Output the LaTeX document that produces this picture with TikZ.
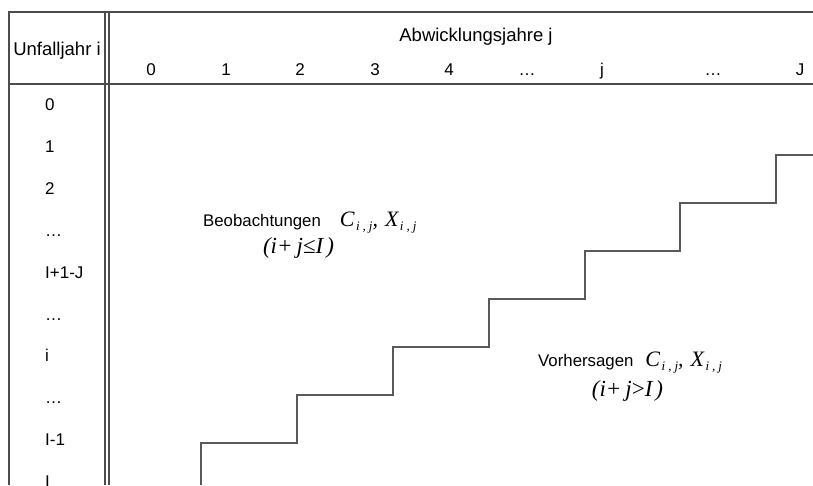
\documentclass[tikz,border=0pt]{standalone}
\usepackage{fontspec}
\setmainfont{Liberation Sans}
\newfontfamily\tmsfont{Liberation Serif}
\newcommand{\mbig}[1]{{\fontsize{22}{23}\selectfont\tmsfont\itshape #1}}
\newcommand{\msubs}{\raisebox{-3.5pt}{\fontsize{13}{13}\selectfont\tmsfont\itshape i\hspace{3pt},\hspace{3pt}j}}
\newcommand{\cxpair}{\mbig{C}\hspace{1.5pt}\msubs\mbig{,}\hspace{7pt}\mbig{X}\hspace{1.5pt}\msubs}
\tikzset{
  frame/.style={draw=black!70, line width=1.1pt},
  stair/.style={draw=black!65, line width=1.5pt},
  ttl/.style={inner sep=0pt, font=\fontsize{18.5}{20}\selectfont},
  lbl/.style={inner sep=0pt, font=\fontsize{17}{19}\selectfont},
  reg/.style={inner sep=0pt, font=\fontsize{16.8}{18}\selectfont},
  cond/.style={inner sep=0pt, font=\fontsize{23}{25}\selectfont\tmsfont\itshape},
}
\begin{document}
\begin{tikzpicture}[x=1pt,y=-1pt]
\useasboundingbox (0,0) rectangle (813,485);
% frame
\draw[frame] (813,12) -- (9,12) -- (9,485);
\draw[frame] (9,84) -- (813,84);
\draw[frame] (105,12) -- (105,485);
\draw[frame] (109,12) -- (109,485);
% header
\node[ttl, anchor=base] (uj) at (57,55) {Unfalljahr i};
\node[ttl, anchor=base] (aj) at (476,41.7) {Abwicklungsjahre j};
\foreach \x/\t/\n in {151/0/c0,226/1/c1,300/2/c2,375/3/c3,449/4/c4,527/\ldots/c5,602/j/c6,713/\ldots/c7,800/J/c8}
  \node[lbl, anchor=base] (\n) at (\x,75) {\t};
% rows
\foreach \k/\t in {0/0,1/1,2/2,3/\ldots,4/I+1-J,5/\ldots,6/i,7/\ldots,8/I-1,9/I}
  \node[lbl, anchor=base west] (r\k) at (45,110.5+41.9*\k) {\t};
% staircase
\draw[stair] (201,485) -- (201,443) -- (297,443) -- (297,395) -- (393,395) -- (393,347)
  -- (489,347) -- (489,299) -- (585,299) -- (585,251) -- (680,251) -- (680,203)
  -- (776,203) -- (776,155) -- (813,155);
% region labels
\node[reg, anchor=base west] (obs) at (203,226.7) {Beobachtungen\hspace{19pt}\cxpair};
\node[cond, anchor=base] (obs2) at (298.5,253) {(i+\hspace{4pt}j{\upshape ≤}I\hspace{3pt})};
\node[reg, anchor=base west] (pre) at (538,366.7) {Vorhersagen\hspace{12pt}\cxpair};
\node[cond, anchor=base] (pre2) at (627.5,396.7) {(i+\hspace{4pt}j{\upshape >}I\hspace{3pt})};
\end{tikzpicture}
\end{document}
